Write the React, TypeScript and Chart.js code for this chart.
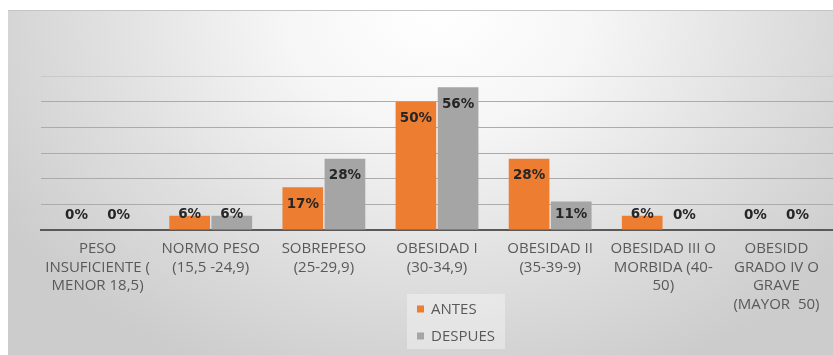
import React, { useEffect, useRef } from "react";
import { Chart, registerables } from "chart.js";

Chart.register(...registerables);

const categories: string[][] = [
  ["PESO", "INSUFICIENTE (", "MENOR 18,5)"],
  ["NORMO PESO", "(15,5 -24,9)"],
  ["SOBREPESO", "(25-29,9)"],
  ["OBESIDAD I", "(30-34,9)"],
  ["OBESIDAD II", "(35-39-9)"],
  ["OBESIDAD III O", "MORBIDA (40-", "50)"],
  ["OBESIDD", "GRADO IV O", "GRAVE", "(MAYOR  50)"],
];

const seriesNames = ["ANTES", "DESPUES"];
const antes = [0, 5.6, 16.7, 50, 27.8, 5.6, 0];
const despues = [0, 5.6, 27.8, 55.6, 11.1, 0, 0];
const seriesColors = ["#ED7D31", "#A5A5A5"];
const yMax = 60;
const yStep = 10;

const dataLabelPlugin = {
  id: "dataLabels",
  afterDatasetsDraw(chart: any) {
    const ctx = chart.ctx;
    ctx.save();
    ctx.font = "bold 13.5px 'DejaVu Sans'";
    ctx.fillStyle = "#262626";
    ctx.textAlign = "center";
    ctx.textBaseline = "middle";
    chart.data.datasets.forEach((ds: any, di: number) => {
      const meta = chart.getDatasetMeta(di);
      meta.data.forEach((bar: any, i: number) => {
        const v = ds.data[i];
        const y = Math.min(bar.y + 17, bar.base - 15);
        ctx.fillText(Math.round(v) + "%", bar.x, y);
      });
    });
    ctx.restore();
  },
};

const legendPlugin = {
  id: "boxLegend",
  afterDraw(chart: any) {
    const ctx = chart.ctx;
    const left = 399;
    const top = 283;
    const w = 98;
    const h = 55;
    ctx.save();
    ctx.fillStyle = "rgba(255,255,255,0.35)";
    ctx.fillRect(left, top, w, h);
    ctx.font = "15px 'Open Sans'";
    ctx.textBaseline = "middle";
    ctx.textAlign = "left";
    chart.data.datasets.forEach((ds: any, i: number) => {
      const cy = top + 15 + i * 27;
      ctx.fillStyle = ds.backgroundColor;
      ctx.fillRect(left + 10, cy - 3.5, 7, 7);
      ctx.fillStyle = "#595959";
      ctx.fillText(ds.label, left + 24, cy + 0.5);
    });
    ctx.restore();
  },
};

export default function App() {
  const ref = useRef<HTMLCanvasElement>(null);
  useEffect(() => {
    if (!ref.current) return;
    const chart = new Chart(ref.current, {
      type: "bar",
      data: {
        labels: categories,
        datasets: [
          {
            label: seriesNames[0],
            data: antes,
            backgroundColor: seriesColors[0],
            categoryPercentage: 0.745,
            barPercentage: 0.965,
          },
          {
            label: seriesNames[1],
            data: despues,
            backgroundColor: seriesColors[1],
            categoryPercentage: 0.745,
            barPercentage: 0.965,
          },
        ],
      },
      options: {
        animation: false,
        responsive: true,
        maintainAspectRatio: false,
        layout: { padding: { left: 33, top: 65, right: 0, bottom: 0 } },
        plugins: {
          legend: { display: false },
          tooltip: { enabled: false },
          title: { display: false },
        },
        scales: {
          x: {
            grid: { display: false, drawTicks: false },
            border: { display: true, color: "#595959", width: 2 },
            ticks: {
              color: "#595959",
              font: { family: "'Open Sans'", size: 15, lineHeight: 1.23 },
              padding: 10,
              maxRotation: 0,
              autoSkip: false,
            },
            afterFit: (scale: any) => {
              scale.height = 125;
            },
          },
          y: {
            min: 0,
            max: yMax,
            ticks: { display: false, stepSize: yStep },
            border: { display: false },
            grid: {
              drawTicks: false,
              lineWidth: 1,
              color: (c: any) =>
                c.tick && c.tick.value === yMax
                  ? "#c9c9c9"
                  : c.tick && c.tick.value === 0
                  ? "rgba(0,0,0,0)"
                  : "#ababab",
            },
            afterFit: (scale: any) => {
              scale.width = 0;
            },
          },
        },
      },
      plugins: [dataLabelPlugin, legendPlugin],
    });
    return () => chart.destroy();
  }, []);

  return (
    <div
      style={{
        position: "fixed",
        left: 8,
        top: 10,
        width: 825,
        height: 345,
        borderTop: "1px solid #c4c4c4",
        boxSizing: "border-box",
        background:
          "radial-gradient(ellipse 62% 115% at 52% 0%, #ffffff 0%, #f6f6f6 30%, #e0e0e0 65%, #cccccc 100%)",
      }}
    >
      <canvas ref={ref} />
    </div>
  );
}
